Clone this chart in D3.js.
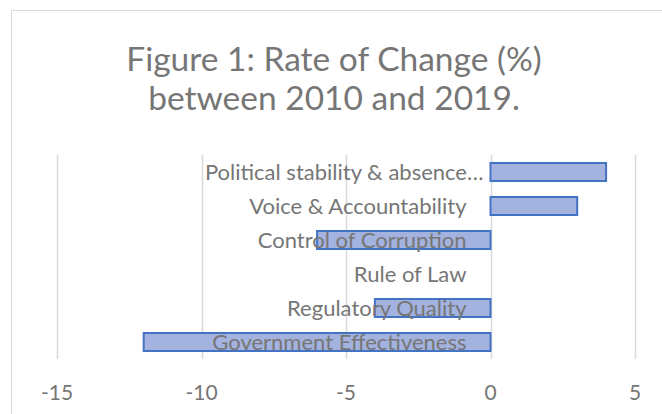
<!DOCTYPE html>
<html>
<head>
<meta charset="utf-8">
<script src="https://cdn.jsdelivr.net/npm/d3@7"></script>
<style>
  body { margin: 0; background: #fff; }
  text { font-family: Lato, "Open Sans", sans-serif; fill: #767676; }
</style>
</head>
<body>
<svg></svg>
<script>
// Data, top row first as it shows in the chart
const categories = [
  "Political stability & absence…",
  "Voice & Accountability",
  "Control of Corruption",
  "Rule of Law",
  "Regulatory Quality",
  "Government Effectiveness",
];
const values = [4, 3, -6, 0, -4, -12];
const ticks = [-15, -10, -5, 0, 5];
const titleLines = ["Figure 1: Rate of Change (%)", "between 2010 and 2019."];

const width = 662;
const height = 414;

const svg = d3.select("svg").attr("width", width).attr("height", height);

// chart border
svg.append("rect")
  .attr("x", 11.5).attr("y", 10.5)
  .attr("width", width).attr("height", height)
  .attr("fill", "#fff")
  .attr("stroke", "#d9d9d9");

const x = d3.scaleLinear().domain([-15, 5]).range([57, 635]);
const y = d3.scaleBand().domain(categories).range([155, 359]).paddingInner(0.47).paddingOuter(0.235);

// title
svg.append("g")
  .selectAll("text")
  .data(titleLines)
  .join("text")
  .attr("x", 334)
  .attr("y", (d, i) => 71 + i * 39)
  .attr("text-anchor", "middle")
  .style("font-size", "33.5px")
  .text((d) => d);

// gridlines
svg.append("g")
  .selectAll("line")
  .data(ticks)
  .join("line")
  .attr("x1", (d) => Math.round(x(d)) + 0.5)
  .attr("x2", (d) => Math.round(x(d)) + 0.5)
  .attr("y1", 155)
  .attr("y2", 359)
  .attr("stroke", "#d9d9d9")
  .attr("stroke-width", 1.5);

// bars
svg.append("g")
  .selectAll("rect")
  .data(values)
  .join("rect")
  .attr("x", (d) => x(Math.min(0, d)))
  .attr("y", (d, i) => y(categories[i]))
  .attr("width", (d) => Math.abs(x(d) - x(0)))
  .attr("height", y.bandwidth())
  .attr("fill", "#a3b2de")
  .attr("stroke", (d) => (d === 0 ? "none" : "#4472c4"))
  .attr("stroke-width", 2);

// category labels next to the zero line; the cut-off one runs a bit further right
svg.append("g")
  .selectAll("text")
  .data(categories)
  .join("text")
  .attr("x", (d) => x(0) - 24 + (d.endsWith("…") ? 17 : 0))
  .attr("y", (d) => y(d) + y.bandwidth() / 2)
  .attr("dy", "0.36em")
  .attr("text-anchor", "end")
  .style("font-size", "22px")
  .text((d) => d);

// x tick labels
svg.append("g")
  .selectAll("text")
  .data(ticks)
  .join("text")
  .attr("x", (d) => x(d))
  .attr("y", 392)
  .attr("dy", "0.36em")
  .attr("text-anchor", "middle")
  .style("font-size", "21px")
  .text((d) => d);
</script>
</body>
</html>
